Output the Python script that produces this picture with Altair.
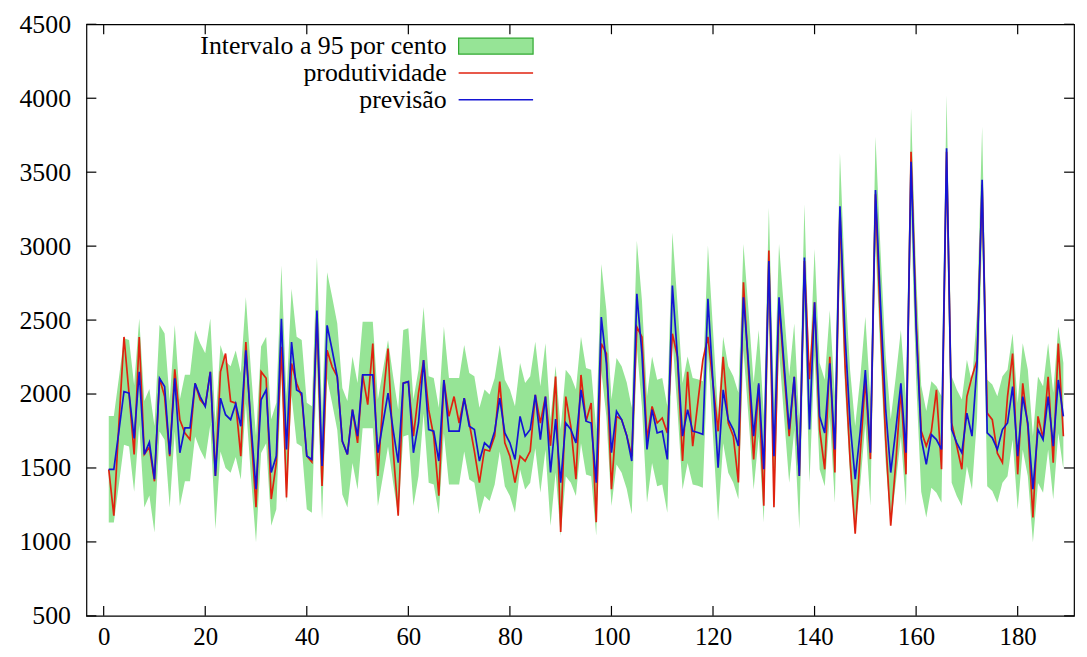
import altair as alt
import pandas as pd

# ---- data ----
dias = list(range(1, 190))

produtividade = [
    1491, 1178, 1800, 2386, 2000, 1592, 2386, 1592, 1640, 1410,
    2106, 1983, 1580, 2167, 1826, 1736, 1692, 2072, 1961, 1920,
    2150, 1446, 2150, 2274, 1950, 1938, 1580, 2352, 1750, 1234,
    2151, 2106, 1290, 1536, 2319, 1301, 2207, 2073, 1983, 1581,
    1540, 2542, 1379, 2296, 2184, 2117, 1681, 1592, 1894, 1670,
    2129, 1928, 2341, 1446, 1961, 2308, 1625, 1178, 2073, 2084,
    1715, 2006, 2229, 1894, 1715, 1312, 2095, 1849, 1983, 1804,
    1972, 1804, 1614, 1401, 1625, 1615, 1715, 2084, 1670, 1580,
    1401, 1580, 1547, 1614, 1994, 1804, 1983, 1650, 2118, 1067,
    1983, 1780, 1424, 2129, 1816, 1939, 1133, 2341, 2274, 1357,
    1849, 1827, 1720, 1580, 2453, 2386, 1692, 1916, 1804, 1838,
    1737, 2408, 2252, 1547, 2151, 1647, 1938, 2229, 2386, 2073,
    1748, 2252, 1804, 1715, 1402, 2755, 2150, 1558, 2060, 1245,
    2970, 1234, 2620, 2150, 1715, 2117, 1446, 2900, 2100, 2621,
    1759, 1491, 2252, 1469, 3240, 2200, 1550, 1055, 1600, 2100,
    1560, 3350, 2450, 1700, 1110, 1536, 2028, 1457, 3638, 2500,
    1750, 1648, 1748, 2028, 1491, 3638, 1804, 1650, 1491, 1983,
    2117, 2229, 3415, 1871, 1827, 1600, 1536, 1983, 2274, 1457,
    2073, 1780, 1166, 1849, 1700, 2117, 1536, 2341, 1715,
]

previsao = [
    1491, 1491, 1750, 2017, 2006, 1700, 2151, 1592, 1674, 1424,
    2106, 2050, 1592, 2107, 1603, 1771, 1771, 2072, 1983, 1916,
    2150, 1446, 1972, 1860, 1827, 1934, 1782, 2296, 1800, 1357,
    1961, 2028, 1469, 1581, 2509, 1625, 2352, 2028, 2006, 1581,
    1558, 2565, 1513, 2464, 2296, 2117, 1681, 1592, 1894, 1715,
    2129, 2129, 2129, 1603, 1804, 2006, 1760, 1536, 2073, 2084,
    1603, 1804, 2229, 1760, 1749, 1547, 2095, 1749, 1749, 1749,
    1972, 1782, 1760, 1547, 1670, 1637, 1749, 1972, 1737, 1670,
    1558, 1849, 1715, 1760, 1994, 1692, 1983, 1470, 1830, 1401,
    1804, 1760, 1670, 2028, 1816, 1804, 1401, 2520, 2207, 1603,
    1883, 1827, 1720, 1547, 2677, 2274, 1625, 1894, 1737, 1749,
    1558, 2733, 2252, 1715, 1894, 1749, 1740, 1727, 2644, 2073,
    1502, 2028, 1827, 1760, 1648, 2654, 2200, 1715, 2073, 1491,
    2900, 1580, 2654, 2200, 1760, 2117, 1446, 2923, 1760, 2621,
    1849, 1737, 2207, 1625, 3269, 2400, 1800, 1424, 1750, 2162,
    1603, 3380, 2600, 1900, 1469, 1759, 2073, 1603, 3571, 2450,
    1700, 1525, 1726, 1692, 1625, 3661, 1760, 1670, 1603, 1871,
    1715, 2200, 3448, 1737, 1704, 1625, 1760, 1804, 2050, 1580,
    1983, 1804, 1357, 1759, 1692, 1983, 1648, 2095, 1849,
]

# half-width of the 95% interval
semi_amplitude = 360

x_ticks = [0, 20, 40, 60, 80, 100, 120, 140, 160, 180]
y_ticks = [500, 1000, 1500, 2000, 2500, 3000, 3500, 4000, 4500]

legend_labels = ["Intervalo a 95 por cento", "produtividade", "previsão"]

# ---- layout / style ----
W, H = 995, 596
FONT = "'Liberation Serif', 'Times New Roman', 'DejaVu Serif', serif"
GREEN = "#96e496"
GREEN_EDGE = "#2fa82f"
RED = "#e0220f"
BLUE = "#1414d4"
TICK = 10

df = pd.DataFrame({
    "t": dias,
    "prod": produtividade,
    "prev": previsao,
})
df["lo"] = df["prev"] - semi_amplitude
df["hi"] = df["prev"] + semi_amplitude

xs = alt.Scale(domain=[-3.4, 191.1], nice=False, zero=False)
ys = alt.Scale(domain=[500, 4500], nice=False, zero=False)

x_axis = alt.Axis(values=x_ticks, title=None, grid=False, domain=False, ticks=False,
                  labelFont=FONT, labelFontSize=25, labelColor="black", labelPadding=9,
                  labelFlush=False, format="d")
y_axis = alt.Axis(values=y_ticks, title=None, grid=False, domain=False, ticks=False,
                  labelFont=FONT, labelFontSize=26, labelColor="black", labelPadding=16,
                  format="d")

base = alt.Chart(df)

band = base.mark_area(color=GREEN, opacity=1).encode(
    x=alt.X("t:Q", scale=xs, axis=x_axis),
    y=alt.Y("lo:Q", scale=ys, axis=y_axis),
    y2="hi:Q",
)
red_line = base.mark_line(color=RED, strokeWidth=1.7).encode(
    x=alt.X("t:Q", scale=xs), y=alt.Y("prod:Q", scale=ys)
)
blue_line = base.mark_line(color=BLUE, strokeWidth=1.7).encode(
    x=alt.X("t:Q", scale=xs), y=alt.Y("prev:Q", scale=ys)
)

# inward ticks on all four sides (gnuplot style)
xt = alt.Chart(pd.DataFrame({"v": x_ticks}))
yt = alt.Chart(pd.DataFrame({"v": y_ticks}))
xt_bottom = xt.mark_rule(color="black", strokeWidth=1.2).encode(
    x=alt.X("v:Q", scale=xs), y=alt.value(H), y2=alt.value(H - TICK))
xt_top = xt.mark_rule(color="black", strokeWidth=1.2).encode(
    x=alt.X("v:Q", scale=xs), y=alt.value(0), y2=alt.value(TICK))
yt_left = yt.mark_rule(color="black", strokeWidth=1.2).encode(
    y=alt.Y("v:Q", scale=ys), x=alt.value(0), x2=alt.value(TICK))
yt_right = yt.mark_rule(color="black", strokeWidth=1.2).encode(
    y=alt.Y("v:Q", scale=ys), x=alt.value(W), x2=alt.value(W - TICK))

# manual legend (top-left, inside plot)
one = alt.Chart(pd.DataFrame({"k": [0]}))
LX_TEXT = 363
LX0, LX1 = 375, 450
rows = [22, 49, 76]
leg_texts = [
    one.mark_text(align="right", baseline="middle", font=FONT, fontSize=26, color="black").encode(
        x=alt.value(LX_TEXT), y=alt.value(r), text=alt.value(lbl))
    for lbl, r in zip(legend_labels, rows)
]
leg_box = one.mark_rect(color=GREEN, stroke=GREEN_EDGE, strokeWidth=1.2).encode(
    x=alt.value(LX0), x2=alt.value(LX1), y=alt.value(rows[0] - 8), y2=alt.value(rows[0] + 8))
leg_red = one.mark_rule(color=RED, strokeWidth=1.6).encode(
    x=alt.value(LX0), x2=alt.value(LX1), y=alt.value(rows[1]))
leg_blue = one.mark_rule(color=BLUE, strokeWidth=1.6).encode(
    x=alt.value(LX0), x2=alt.value(LX1), y=alt.value(rows[2]))

chart = alt.layer(
    band, red_line, blue_line,
    xt_bottom, xt_top, yt_left, yt_right,
    leg_box, leg_red, leg_blue, *leg_texts,
).properties(
    width=W, height=H,
    autosize=alt.AutoSizeParams(type="none"),
    padding={"left": 79, "top": 14, "right": 5, "bottom": 35},
    background="white",
).configure_view(
    stroke="black", strokeWidth=1.2
)

chart.save("out.html", embed_options={"renderer": "svg", "actions": False})
